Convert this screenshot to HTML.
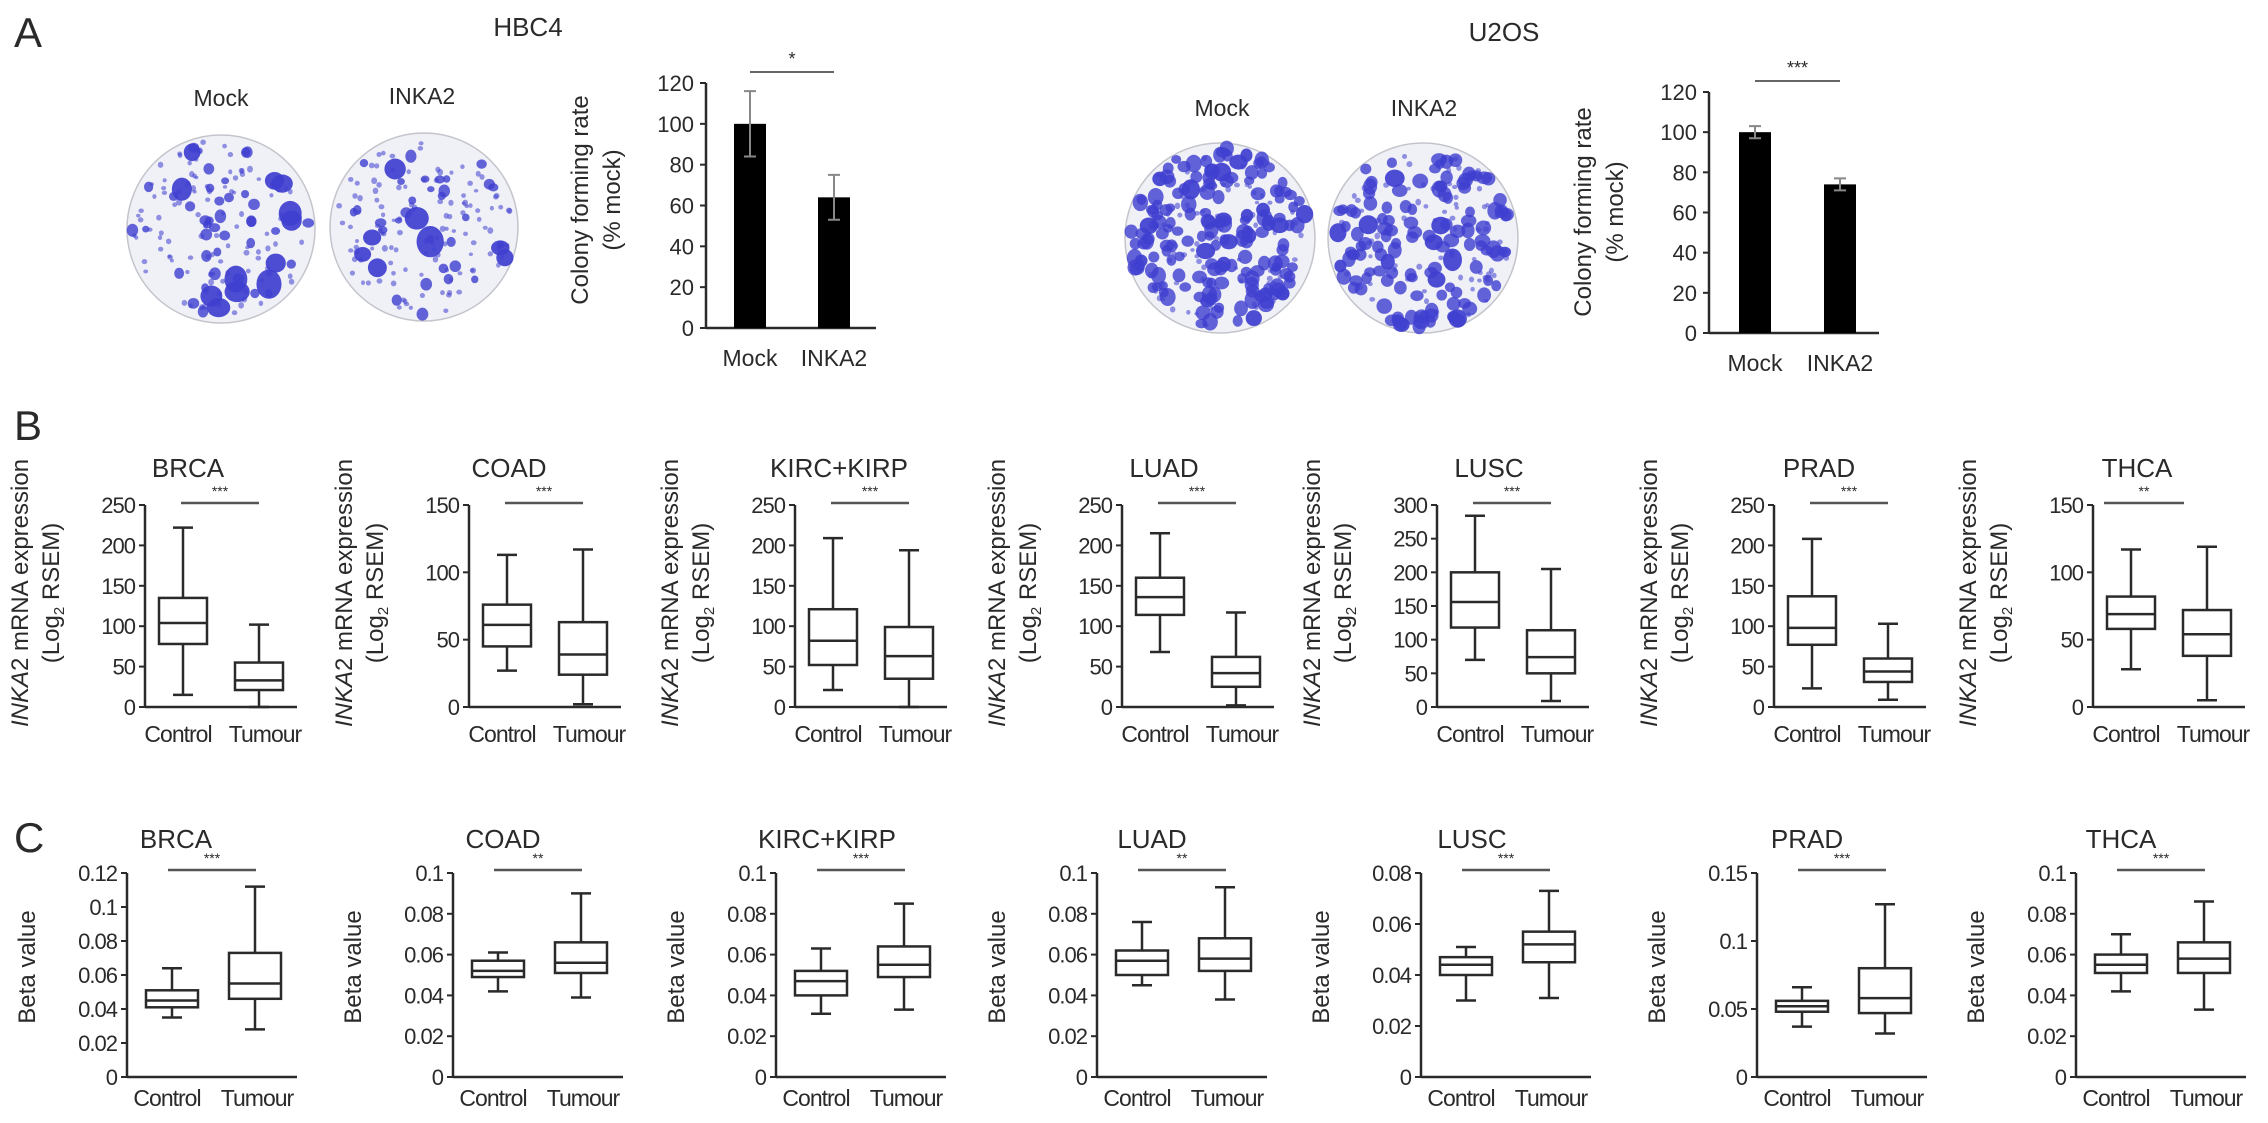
<!DOCTYPE html>
<html><head><meta charset="utf-8"><style>
html,body{margin:0;padding:0;background:#fff;}
svg{display:block;font-family:"Liberation Sans",sans-serif;}
</style></head><body>
<svg id="fig" width="2268" height="1123" viewBox="0 0 2268 1123" xmlns="http://www.w3.org/2000/svg"></svg>
<script>
// ===== Panel A bar chart data =====
const barCats = ['Mock', 'INKA2'];
const hbc4Values = [100, 64];
const hbc4Err = [16, 11];
const u2osValues = [100, 74];
const u2osErr = [3, 3];
const barTicks = [0, 20, 40, 60, 80, 100, 120];

// ===== Panel B box plot data: [min, q1, median, q3, max] =====
const cancerTypes = ['BRCA', 'COAD', 'KIRC+KIRP', 'LUAD', 'LUSC', 'PRAD', 'THCA'];
const groupLabels = ['Control', 'Tumour'];
const bControl = [
  [15, 78, 104, 135, 222],
  [27, 45, 61, 76, 113],
  [21, 52, 82, 121, 209],
  [68, 114, 136, 160, 215],
  [70, 118, 156, 200, 284],
  [23, 77, 98, 137, 208],
  [28, 58, 69, 82, 117]
];
const bTumour = [
  [0, 21, 33, 55, 102],
  [2, 24, 39, 63, 117],
  [0, 35, 63, 99, 194],
  [2, 25, 42, 62, 117],
  [9, 50, 74, 114, 205],
  [9, 31, 44, 60, 103],
  [5, 38, 54, 72, 119]
];
const bMax = [250, 150, 250, 250, 300, 250, 150];
const bStep = [50, 50, 50, 50, 50, 50, 50];
const bSig = ['***', '***', '***', '***', '***', '***', '**'];

// ===== Panel C box plot data =====
const cControl = [
  [0.035, 0.041, 0.045, 0.051, 0.064],
  [0.042, 0.049, 0.052, 0.057, 0.061],
  [0.031, 0.040, 0.047, 0.052, 0.063],
  [0.045, 0.050, 0.057, 0.062, 0.076],
  [0.030, 0.040, 0.044, 0.047, 0.051],
  [0.037, 0.048, 0.052, 0.056, 0.066],
  [0.042, 0.051, 0.055, 0.060, 0.070]
];
const cTumour = [
  [0.028, 0.046, 0.055, 0.073, 0.112],
  [0.039, 0.051, 0.056, 0.066, 0.090],
  [0.033, 0.049, 0.055, 0.064, 0.085],
  [0.038, 0.052, 0.058, 0.068, 0.093],
  [0.031, 0.045, 0.052, 0.057, 0.073],
  [0.032, 0.047, 0.058, 0.080, 0.127],
  [0.033, 0.051, 0.058, 0.066, 0.086]
];
const cMax = [0.12, 0.1, 0.1, 0.1, 0.08, 0.15, 0.1];
const cStep = [0.02, 0.02, 0.02, 0.02, 0.02, 0.05, 0.02];
const cSig = ['***', '**', '***', '**', '***', '***', '***'];

// ===== layout =====
const NS = 'http://www.w3.org/2000/svg';
const svg = document.getElementById('fig');
const INK = '#2a2a2a';
function mk(tag, attrs, parent) {
  const e = document.createElementNS(NS, tag);
  for (const k in attrs) e.setAttribute(k, attrs[k]);
  (parent || svg).appendChild(e);
  return e;
}
function txt(x, y, s, size, anchor, parent, extra) {
  const t = mk('text', Object.assign({x: x, y: y, 'font-size': size, 'text-anchor': anchor || 'middle', fill: INK}, extra || {}), parent);
  t.textContent = s;
  return t;
}
function fmt(v) { return String(parseFloat(v.toFixed(4))); }

let t;
t = txt(14, 47, 'A', 42, 'start');


t = txt(14, 440, 'B', 42, 'start');


t = txt(14, 852, 'C', 42, 'start');



// ===== dishes (decorative photo) =====
let seed = 12345;
function rnd() { seed = (seed * 1103515245 + 12345) % 2147483648; return seed / 2147483648; }
function dish(cx, cy, r, nBig, nMid, nSmall, bigR, midR, name) {
  const g = mk('g', {});
  
  
  mk('circle', {cx: cx, cy: cy, r: r, fill: '#f0f0f7', stroke: '#c4c4cc', 'stroke-width': 1.5}, g);
  const spec = [[nSmall, 2, 3, 0.55], [nMid, midR * 0.6, midR, 0.8], [nBig, bigR * 0.6, bigR, 0.92]];
  spec.forEach(s => {
    for (let i = 0; i < s[0]; i++) {
      const a = rnd() * Math.PI * 2, d = Math.sqrt(rnd()) * (r - 5);
      const rr = s[1] + rnd() * (s[2] - s[1]);
      mk('ellipse', {cx: cx + Math.cos(a) * d, cy: cy + Math.sin(a) * d, rx: rr, ry: rr * (0.8 + rnd() * 0.4), fill: '#3f3fcf', 'fill-opacity': s[3]}, g);
    }
  });
}
dish(221, 229, 94, 12, 40, 110, 13, 6, 'hbc4-mock-dish');
dish(424, 227, 94, 8, 30, 120, 14, 6, 'hbc4-inka2-dish');
dish(1220, 238, 95, 20, 150, 80, 10, 8, 'u2os-mock-dish');
dish(1423, 238, 95, 16, 110, 80, 10, 8, 'u2os-inka2-dish');

t = txt(528, 36, 'HBC4', 26);


t = txt(1504, 41, 'U2OS', 26);


t = txt(221, 106, 'Mock', 23);


t = txt(422, 104, 'INKA2', 23);


t = txt(1222, 116, 'Mock', 23);


t = txt(1424, 116, 'INKA2', 23);



// ===== bar charts =====
function barChart(ax, y0, yTop, values, errs, sig, centers, titleCY, name) {
  const g = mk('g', {});
  
  
  const vmax = barTicks[barTicks.length - 1];
  const ys = v => y0 - (v / vmax) * (y0 - yTop);
  const xs = i => ax + centers[i];
  barTicks.forEach(v => {
    mk('line', {x1: ax - 6, x2: ax, y1: ys(v), y2: ys(v), stroke: INK, 'stroke-width': 2}, g);
    const l = txt(ax - 12, ys(v) + 8, String(v), 22, 'end', g);
    
    
  });
  const yAxis = mk('line', {x1: ax, x2: ax, y1: yTop, y2: y0, stroke: INK, 'stroke-width': 2.5}, g);
  
  
  const xAxis = mk('line', {x1: ax, x2: ax + 170, y1: y0, y2: y0, stroke: INK, 'stroke-width': 2.5}, g);
  
  
  values.forEach((v, i) => {
    const b = mk('rect', {x: xs(i) - 16, y: ys(v), width: 32, height: y0 - ys(v), fill: '#000'}, g);
    
    
    const e = mk('path', {d: `M${xs(i)},${ys(v - errs[i])}V${ys(v + errs[i])}M${xs(i) - 6},${ys(v + errs[i])}h12M${xs(i) - 6},${ys(v - errs[i])}h12`, stroke: '#888', 'stroke-width': 2, fill: 'none'}, g);
    
    
    const l = txt(xs(i), y0 + 38, barCats[i], 23, 'middle', g);
    
    
  });
  const sl = mk('line', {x1: xs(0), x2: xs(1), y1: yTop - 11, y2: yTop - 11, stroke: '#666', 'stroke-width': 2}, g);
  
  
  const st = txt((xs(0) + xs(1)) / 2, yTop - 18, sig, 18, 'middle', g);
  
  
  const tt = mk('text', {transform: `translate(${ax - 118},${titleCY}) rotate(-90)`, 'font-size': 24, 'text-anchor': 'middle', fill: INK}, g);
  
  
  const t1 = mk('tspan', {x: 0, y: 0}, tt); t1.textContent = 'Colony forming rate';
  const t2 = mk('tspan', {x: 0, y: 32}, tt); t2.textContent = '(% mock)';
}
barChart(706, 328, 83, hbc4Values, hbc4Err, '*', [44, 128], 200, 'hbc4-bar-chart');
barChart(1709, 333, 92, u2osValues, u2osErr, '***', [46, 131], 212, 'u2os-bar-chart');

// ===== box plots =====
function boxPlot(opts) {
  const g = mk('g', {});
  
  
  const ax = opts.ax, y0 = opts.y0, yTop = opts.yTop, vmax = opts.vmax;
  const ys = v => y0 - (v / vmax) * (y0 - yTop);
  const title = txt(opts.titleX, opts.titleY, opts.title, 26, 'middle', g);
  
  
  const n = Math.round(vmax / opts.step);
  for (let k = 0; k <= n; k++) {
    const v = k * opts.step;
    mk('line', {x1: ax - 6, x2: ax, y1: ys(v), y2: ys(v), stroke: INK, 'stroke-width': 2}, g);
    const l = txt(ax - 10, ys(v) + 8, fmt(v), 22, 'end', g, {'letter-spacing': '-1'});
    
    
  }
  const yAxis = mk('line', {x1: ax, x2: ax, y1: yTop, y2: y0, stroke: INK, 'stroke-width': 2.5}, g);
  
  
  const xAxis = mk('line', {x1: ax, x2: ax + opts.len, y1: y0, y2: y0, stroke: INK, 'stroke-width': 2.5}, g);
  
  
  [opts.ctrl, opts.tum].forEach((s, i) => {
    const cx = ax + opts.centers[i], w = opts.bw;
    const bx = mk('g', {}, g);
    
    
    mk('path', {d: `M${cx},${ys(s[0])}V${ys(s[1])}M${cx},${ys(s[3])}V${ys(s[4])}M${cx - 10},${ys(s[0])}h20M${cx - 10},${ys(s[4])}h20`, stroke: INK, 'stroke-width': 2.5, fill: 'none'}, bx);
    mk('rect', {x: cx - w / 2, y: ys(s[3]), width: w, height: ys(s[1]) - ys(s[3]), fill: '#fff', stroke: INK, 'stroke-width': 2.5}, bx);
    mk('line', {x1: cx - w / 2, x2: cx + w / 2, y1: ys(s[2]), y2: ys(s[2]), stroke: INK, 'stroke-width': 2.5}, bx);
    const l = txt(ax + opts.labelX[i], opts.labelY, groupLabels[i], 23, 'middle', g, {'letter-spacing': '-1'});
    
    
  });
  const sl = mk('line', {x1: ax + opts.sig[0], x2: ax + opts.sig[1], y1: opts.sigY, y2: opts.sigY, stroke: '#555', 'stroke-width': 2.5}, g);
  
  
  const st = txt(ax + (opts.sig[0] + opts.sig[1]) / 2, opts.sigY - 7, opts.stars, 14, 'middle', g);
  
  
  const tt = mk('text', {transform: `translate(${ax + opts.ytX},${opts.ytY}) rotate(-90)`, 'font-size': 24, 'text-anchor': 'middle', fill: INK}, g);
  
  
  if (opts.rsem) {
    const a = mk('tspan', {x: 0, y: 0}, tt);
    const i1 = mk('tspan', {'font-style': 'italic'}, a); i1.textContent = 'INKA';
    const i2 = mk('tspan', {}, a); i2.textContent = '2 mRNA expression';
    const b = mk('tspan', {x: 0, y: 31}, tt); b.textContent = '(Log';
    const sub = mk('tspan', {'font-size': 15, dy: 5}, tt); sub.textContent = '2';
    const b2 = mk('tspan', {dy: -5}, tt); b2.textContent = ' RSEM)';
  } else {
    tt.textContent = 'Beta value';
  }
}

const bAxisX = [145, 469, 795, 1122, 1437, 1774, 2093];
const bTitleX = [188, 509, 839, 1164, 1489, 1819, 2137];
cancerTypes.forEach((ct, i) => {
  boxPlot({
    name: 'expression-boxplot-' + ct.toLowerCase().replace('+', '-'),
    title: ct, titleX: bTitleX[i], titleY: 477,
    ax: bAxisX[i], y0: 707, yTop: 505, vmax: bMax[i], step: bStep[i],
    len: 152, centers: [38, 114], bw: 48, labelX: [33, 120], labelY: 742,
    ctrl: bControl[i], tum: bTumour[i],
    sig: i === 6 ? [11, 91] : [36, 114], sigY: 503, stars: bSig[i],
    ytX: -117, ytY: 593, rsem: true
  });
});

const cAxisX = [127, 453, 776, 1097, 1421, 1757, 2076];
const cTitleX = [176, 503, 827, 1152, 1472, 1807, 2121];
cancerTypes.forEach((ct, i) => {
  boxPlot({
    name: 'methylation-boxplot-' + ct.toLowerCase().replace('+', '-'),
    title: ct, titleX: cTitleX[i], titleY: 848,
    ax: cAxisX[i], y0: 1077, yTop: 873, vmax: cMax[i], step: cStep[i],
    len: 170, centers: [45, 128], bw: 52, labelX: [40, 130], labelY: 1106,
    ctrl: cControl[i], tum: cTumour[i],
    sig: [41, 129], sigY: 870, stars: cSig[i],
    ytX: -92, ytY: 967, rsem: false
  });
});
</script>
</body></html>
